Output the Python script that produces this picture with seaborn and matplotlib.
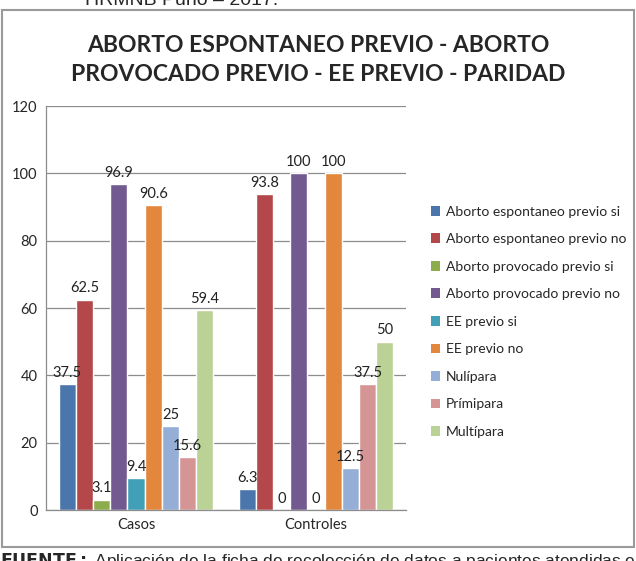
import numpy as np
import pandas as pd
import seaborn as sns
import matplotlib.pyplot as plt
from matplotlib.patches import Rectangle, Patch

# Datos
grupos = ["Casos", "Controles"]
series = [
    "Aborto espontaneo previo si", "Aborto espontaneo previo no",
    "Aborto provocado previo si", "Aborto provocado previo no",
    "EE previo si", "EE previo no",
    "Nulípara", "Prímipara", "Multípara",
]
casos = [37.5, 62.5, 3.1, 96.9, 9.4, 90.6, 25, 15.6, 59.4]
controles = [6.3, 93.8, 0, 100, 0, 100, 12.5, 37.5, 50]
colores = ["#4A76AC", "#B4474A", "#8DAD4D", "#725A91", "#41A0B8",
           "#E3873C", "#95AED6", "#D59595", "#BBD296"]
y_ticks = [0, 20, 40, 60, 80, 100, 120]

df = pd.DataFrame({
    "grupo": np.repeat(grupos, len(series)),
    "serie": series * 2,
    "valor": casos + controles,
})

sns.set_style("white")
plt.rcParams["font.family"] = ["Lato", "DejaVu Sans"]

fig = plt.figure(figsize=(6.36, 5.61), dpi=100)
ax = fig.add_axes([46 / 636, 1 - 510 / 561, 360 / 636, 404 / 561])

sns.barplot(data=df, x="grupo", y="valor", hue="serie", hue_order=series,
            palette=colores, saturation=1, width=0.86, ax=ax, legend=False)

for cont in ax.containers:
    ax.bar_label(cont, labels=[f"{b.get_height():g}" for b in cont],
                 padding=3, fontsize=10.5, color="#222222")

ax.set_ylim(0, 120)
ax.set_yticks(y_ticks)
ax.yaxis.grid(True, color="#8c8c8c", linewidth=0.9)
ax.set_axisbelow(True)
ax.set_xlabel("")
ax.set_ylabel("")
ax.tick_params(axis="both", labelsize=10.5, length=0, pad=6)
for s in ["top", "right"]:
    ax.spines[s].set_visible(False)
for s in ["left", "bottom"]:
    ax.spines[s].set_color("#8c8c8c")
    ax.spines[s].set_linewidth(0.9)

# Leyenda
handles = [Patch(facecolor=c, edgecolor="none") for c in colores]
fig.legend(handles, series, loc="upper left", bbox_to_anchor=(425 / 636, 1 - 200 / 561),
           frameon=False, fontsize=10, handlelength=0.7, handleheight=0.7,
           handletextpad=0.4, labelspacing=1.12, borderaxespad=0)

# Título
fig.text(0.5, 1 - 60 / 561, "ABORTO ESPONTANEO PREVIO - ABORTO\nPROVOCADO PREVIO - EE PREVIO - PARIDAD",
         ha="center", va="center", fontsize=16.5, fontweight="bold", linespacing=1.45)

# Marco del gráfico
fig.patches.append(Rectangle((2 / 636, 1 - 547 / 561), 632 / 636, 537 / 561,
                             transform=fig.transFigure, fill=False,
                             edgecolor="#9a9a9a", linewidth=1.5))

# Texto del documento recortado
fig.text(85 / 636, 1 - 5 / 561, "HRMNB Puno – 2017.", family="Liberation Sans",
         fontsize=14, va="baseline", ha="left")
fig.text(0, 1 - 551 / 561, r"$\bf{FUENTE:}$ Aplicación de la ficha de recolección de datos a pacientes atendidas en el",
         family="Liberation Sans", fontsize=12.5, va="top", ha="left")

fig.savefig("out.png", dpi=100)
